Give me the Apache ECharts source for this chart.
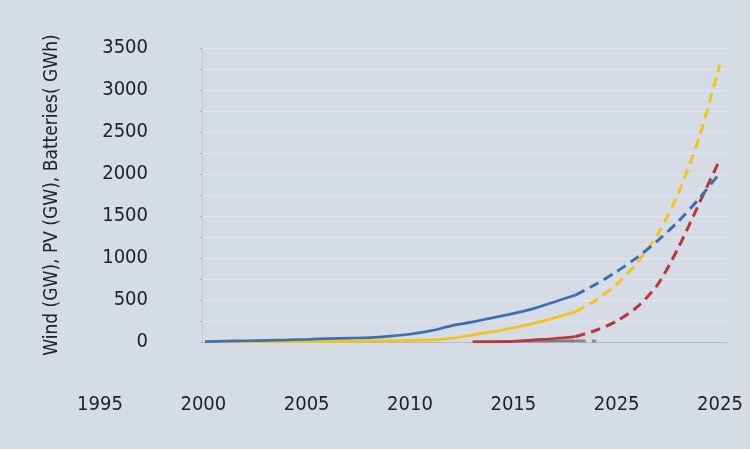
<!DOCTYPE html>
<html>
<head>
<meta charset="utf-8">
<script src="https://cdn.jsdelivr.net/npm/echarts@6/dist/echarts.min.js"></script>
<style>
  html, body { margin: 0; padding: 0; background: #d6dce6; }
  #chart { width: 750px; height: 449px; }
</style>
</head>
<body>
<div id="chart"></div>
<script>
// tick labels as printed on the original (yes, 2025 twice)
var xLabels = ['1995', '2000', '2005', '2010', '2015', '2025', '2025'];

// measured history, 2000-2018
var histYears = [2000, 2001, 2002, 2003, 2004, 2005, 2006, 2007, 2008, 2009,
                 2010, 2011, 2012, 2013, 2014, 2015, 2016, 2017, 2018];
var windHist = [5, 10, 15, 20, 25, 32, 40, 46, 52, 70, 95, 135, 195, 240, 290, 340, 400, 480, 560];
var pvHist   = [1, 1, 2, 3, 4, 5, 7, 9, 12, 16, 20, 25, 45, 85, 125, 170, 225, 290, 361];

var battYears = [2013, 2014, 2015, 2016, 2017, 2018];
var battHist  = [1, 2, 8, 25, 42, 65];
var otherHist = [3, 5, 8, 10, 12, 14];

// projections, 2018-2025
var projYears = [2018, 2019, 2020, 2021, 2022, 2023, 2024, 2025];
var windProj = [560, 690, 840, 1010, 1210, 1440, 1710, 2010];
var pvProj   = [361, 500, 690, 950, 1290, 1780, 2440, 3300];
var battProj = [65, 140, 250, 420, 690, 1130, 1650, 2170];
var otherProjYears = [2018, 2019];
var otherProj = [14, 10];

var font = "'Liberation Sans Narrow', 'DejaVu Sans Condensed', sans-serif";

function pairs(xs, ys) {
    return xs.map(function (x, i) { return [x, ys[i]]; });
}

function line(name, xs, ys, color, dashed) {
    return {
        name: name,
        type: 'line',
        xAxisIndex: 0,
        yAxisIndex: 0,
        data: pairs(xs, ys),
        smooth: 0.3,
        symbol: 'none',
        lineStyle: { color: color, width: dashed ? 3 : 2.7, type: dashed ? [10, 6] : 'solid' },
        z: 3
    };
}

var chart = echarts.init(document.getElementById('chart'));
var option = {
    animation: false,
    backgroundColor: '#d6dce6',
    grid: [
        { left: 202, right: 23, top: 48, bottom: 107 },
        { left: 100, right: 30, top: 300, bottom: 60 }   // only carries the year labels
    ],
    xAxis: [
        {
            type: 'value',
            gridIndex: 0,
            min: 1999.85,
            max: 2025.35,
            axisLine: { show: true, lineStyle: { color: '#b4b9c2', width: 1 } },
            axisTick: { show: false },
            axisLabel: { show: false },
            splitLine: { show: false }
        },
        {
            type: 'value',
            gridIndex: 1,
            min: 1995,
            max: 2025,
            interval: 5,
            axisLine: { show: false },
            axisTick: { show: false },
            splitLine: { show: false },
            axisLabel: {
                margin: 6,
                fontFamily: font,
                fontSize: 20,
                color: '#222',
                formatter: function (v) { return xLabels[Math.round((v - 1995) / 5)]; }
            }
        }
    ],
    yAxis: [
        {
            type: 'value',
            gridIndex: 0,
            min: 0,
            max: 3500,
            interval: 500,
            name: 'Wind (GW), PV (GW), Batteries( GWh)',
            nameLocation: 'middle',
            nameGap: 140,
            nameTextStyle: { fontFamily: font, fontSize: 19, color: '#222' },
            axisLine: { show: true, lineStyle: { color: '#c4c9d1' } },
            axisTick: { show: true, length: 2, lineStyle: { color: '#b0b5be' } },
            minorTick: { show: true, splitNumber: 2, length: 2, lineStyle: { color: '#b0b5be' } },
            axisLabel: {
                margin: 54,
                padding: [0, 0, 5, 0],
                fontFamily: font,
                fontSize: 20,
                color: '#222',
                formatter: function (v) { return String(v); }
            },
            splitLine: { show: true, lineStyle: { color: '#e2e5eb', width: 1 } },
            minorSplitLine: { show: true, lineStyle: { color: '#e2e5eb', width: 1 } }
        },
        {
            type: 'value',
            gridIndex: 1,
            show: false
        }
    ],
    series: [
        line('Other', battYears, otherHist, '#7d7f85', false),
        line('Other proj', otherProjYears, otherProj, '#8a8c92', true),
        line('Batteries', battYears, battHist, '#b8363d', false),
        line('Batteries proj', projYears, battProj, '#b8363d', true),
        line('PV', histYears, pvHist, '#f2c318', false),
        line('PV proj', projYears, pvProj, '#f2c318', true),
        line('Wind', histYears, windHist, '#3c6eb0', false),
        line('Wind proj', projYears, windProj, '#3c6eb0', true)
    ]
};
chart.setOption(option);
</script>
</body>
</html>
